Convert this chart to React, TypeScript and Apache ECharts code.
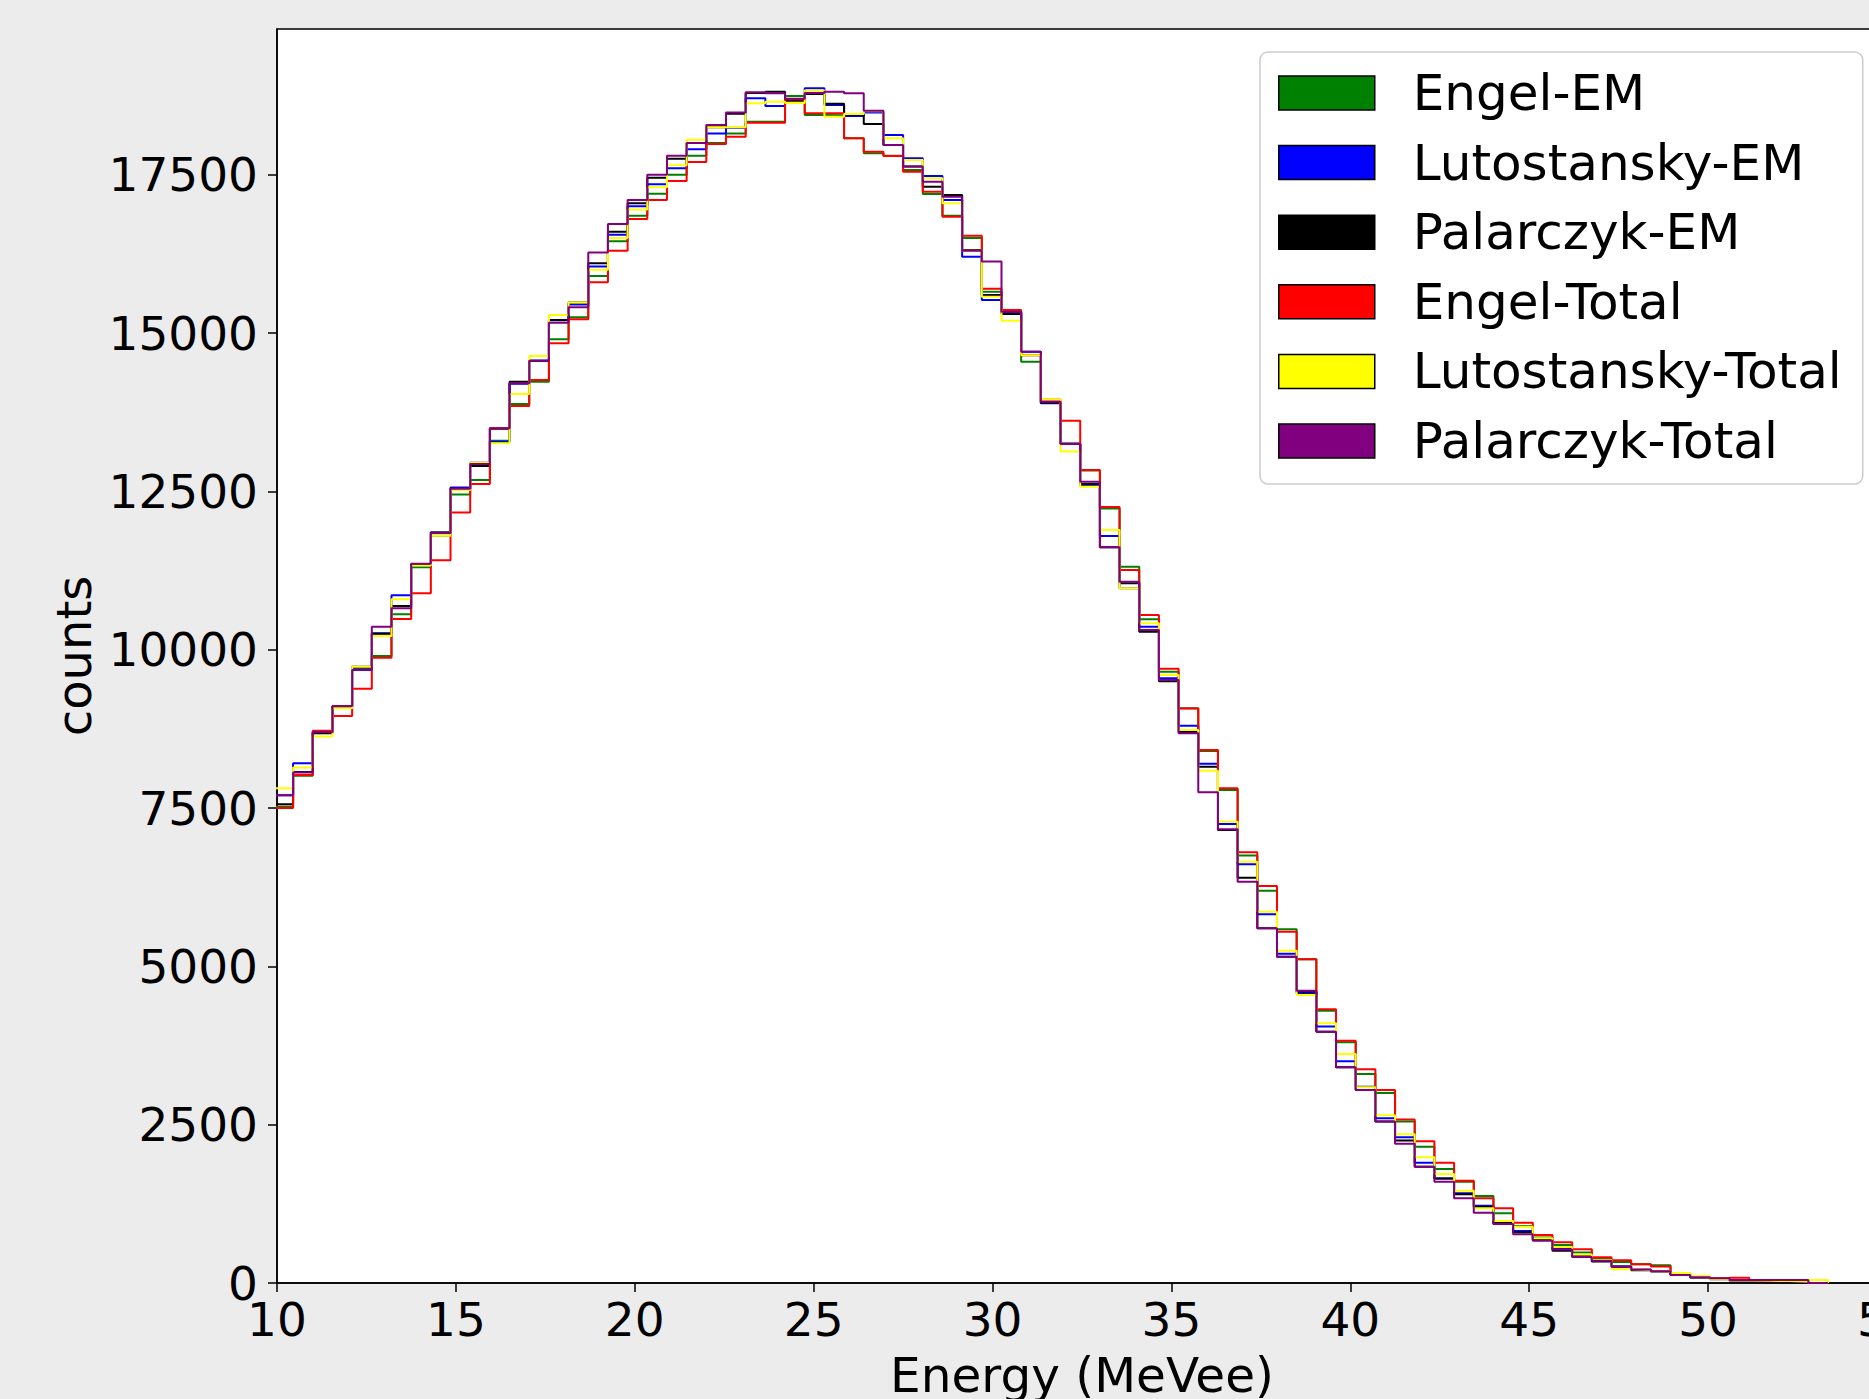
import React, { useEffect, useRef } from "react";
import * as echarts from "echarts";

const SERIES_NAMES = [
  "Engel-EM",
  "Lutostansky-EM",
  "Palarczyk-EM",
  "Engel-Total",
  "Lutostansky-Total",
  "Palarczyk-Total",
];
const SERIES_COLORS = ["#008000", "#0000ff", "#000000", "#ff0000", "#ffff00", "#800080"];

// histogram binning: edges at k * 0.55 MeVee, first visible bin k = 18 (9.9 .. 10.45)
const FIRST_BIN_INDEX = 18;
const BIN_WIDTH = 0.55;

const X_TICKS = [10, 15, 20, 25, 30, 35, 40, 45, 50, 55];
const Y_TICKS = [0, 2500, 5000, 7500, 10000, 12500, 15000, 17500];
const X_MIN = 10;
const X_MAX = 55;
const Y_MAX = 19800;

const engelEM = [
  7520, 8010, 8700, 9100, 9700, 9900, 10559, 11300, 11800, 12450,
  12679, 13300, 13879, 14232, 14901, 15250, 15900, 16450, 16850, 17200,
  17500, 17800, 18000, 18150, 18337, 18337, 18743, 18443, 18440, 18075,
  17838, 17800, 17574, 17195, 16853, 16500, 15650, 15330, 14548, 13900,
  13250, 12830, 12230, 11311, 10480, 9650, 9075, 8400, 7785, 6750,
  6195, 5585, 5111, 4300, 3800, 3300, 3000, 2550, 2150, 1800,
  1600, 1374, 1100, 900, 720, 600, 480, 380, 330, 295,
  279, 150, 100, 70, 45, 40, 30, 25, 0,
];
const lutostanskyEM = [
  7700, 8206, 8700, 9100, 9720, 10258, 10859, 11350, 11850, 12560,
  12950, 13284, 14200, 14560, 15200, 15450, 16050, 16550, 17000, 17350,
  17600, 17900, 18150, 18242, 18707, 18585, 18690, 18864, 18600, 18427,
  18480, 18127, 17759, 17480, 17101, 16205, 15522, 15320, 14705, 13890,
  13250, 12600, 11795, 10969, 10363, 9550, 8800, 8200, 7248, 6611,
  5822, 5200, 4580, 4050, 3500, 3100, 2600, 2300, 1900, 1650,
  1417, 1221, 932, 820, 690, 540, 430, 350, 260, 210,
  190, 130, 90, 60, 40, 35, 30, 25, 0,
];
const palarczykEM = [
  7560, 8070, 8680, 9100, 9732, 10250, 10690, 11340, 11850, 12540,
  12900, 13490, 14232, 14560, 15206, 15482, 16100, 16600, 17050, 17450,
  17750, 18000, 18250, 18460, 18790, 18811, 18668, 18774, 18620, 18450,
  18300, 17969, 17627, 17311, 17180, 16311, 15600, 15301, 14650, 13900,
  13250, 12616, 11617, 11050, 10284, 9500, 8700, 8150, 7153, 6400,
  5601, 5152, 4600, 3968, 3406, 3048, 2550, 2250, 1837, 1650,
  1400, 1200, 950, 800, 680, 510, 420, 340, 260, 200,
  180, 125, 88, 65, 40, 35, 30, 25, 0,
];
const engelTotal = [
  7500, 8020, 8721, 8953, 9384, 9874, 10485, 10891, 11411, 12164,
  12616, 13495, 13848, 14258, 14838, 15217, 15800, 16300, 16800, 17100,
  17400, 17700, 17985, 18100, 18321, 18321, 18690, 18469, 18469, 18075,
  17863, 17795, 17548, 17232, 16837, 16537, 15700, 15364, 14653, 13950,
  13616, 12837, 12251, 11258, 10548, 9700, 9070, 8416, 7811, 6801,
  6269, 5547, 5111, 4322, 3826, 3374, 3048, 2580, 2238, 1900,
  1616, 1338, 1180, 953, 758, 643, 532, 406, 358, 295,
  260, 140, 100, 70, 84, 45, 35, 25, 0,
];
const lutostanskyTotal = [
  7810, 8140, 8627, 9075, 9732, 10216, 10796, 11330, 11800, 12520,
  12953, 13258, 14037, 14637, 15285, 15482, 16000, 16500, 16950, 17300,
  17650, 18050, 18248, 18250, 18628, 18653, 18630, 18827, 18416, 18458,
  18500, 18075, 17732, 17443, 17050, 16300, 15574, 15195, 14650, 13953,
  13127, 12574, 11890, 10969, 10417, 9600, 8732, 8089, 7284, 6653,
  5863, 5247, 4548, 4100, 3616, 3090, 2650, 2350, 1985, 1721,
  1458, 1180, 980, 889, 706, 568, 450, 363, 216, 205,
  185, 158, 111, 60, 40, 35, 30, 25, 47,
];
const palarczykTotal = [
  7700, 8060, 8700, 9111, 9680, 10363, 10653, 11355, 11844, 12541,
  12932, 13495, 14206, 14563, 15163, 15406, 16270, 16720, 17100, 17500,
  17800, 18000, 18285, 18480, 18800, 18785, 18700, 18790, 18811, 18785,
  18511, 17969, 17627, 17390, 17150, 16300, 16127, 15337, 14705, 13916,
  13248, 12653, 11617, 11074, 10310, 9520, 8680, 7748, 7164, 6337,
  5601, 5152, 4615, 3968, 3406, 3048, 2550, 2200, 1837, 1600,
  1338, 1110, 932, 769, 668, 530, 410, 350, 253, 215,
  185, 126, 90, 74, 47, 47, 47, 47, 0,
];

const SERIES_VALUES = [engelEM, lutostanskyEM, palarczykEM, engelTotal, lutostanskyTotal, palarczykTotal];

const FONT = "DejaVu Sans";

function binEdge(i: number): number {
  return Math.round((FIRST_BIN_INDEX + i) * BIN_WIDTH * 1000) / 1000;
}

function stepPoints(values: number[]): number[][] {
  const pts: number[][] = [[binEdge(0), 0]];
  values.forEach((v, i) => pts.push([binEdge(i), v]));
  pts.push([binEdge(values.length), 0]);
  return pts;
}

export default function App() {
  const ref = useRef<HTMLDivElement>(null);

  useEffect(() => {
    document.body.style.margin = "0";
    if (!ref.current) return;
    const chart = echarts.init(ref.current, undefined, { renderer: "svg" });

    const legendSeries = SERIES_NAMES.map((name, i) => ({
      type: "bar",
      name,
      data: [],
      silent: true,
      itemStyle: { color: SERIES_COLORS[i], borderColor: "#000", borderWidth: 1.5 },
    }));

    const lineSeries = SERIES_NAMES.map((name, i) => ({
      type: "line",
      name,
      step: "end",
      symbol: "none",
      silent: true,
      clip: true,
      data: stepPoints(SERIES_VALUES[i]),
      lineStyle: { color: SERIES_COLORS[i], width: 2 },
      itemStyle: { color: SERIES_COLORS[i] },
      z: 3 + i,
    }));

    const plain = (v: number) => String(v);

    chart.setOption({
      animation: false,
      backgroundColor: "#ececec",
      textStyle: { fontFamily: FONT },
      grid: {
        show: true,
        left: 277,
        top: 29,
        width: 1610,
        height: 1254,
        backgroundColor: "#ffffff",
        borderColor: "#000",
        borderWidth: 1.5,
        containLabel: false,
        outerBoundsMode: "none",
      },
      legend: {
        show: true,
        data: SERIES_NAMES,
        orient: "vertical",
        left: 1260,
        top: 52,
        icon: "rect",
        itemWidth: 96,
        itemHeight: 34,
        itemGap: 19.6,
        padding: [16, 21, 18, 18],
        backgroundColor: "rgba(255,255,255,0.8)",
        borderColor: "#cccccc",
        borderWidth: 1.5,
        borderRadius: 8,
        selectedMode: false,
        itemStyle: { borderColor: "#000", borderWidth: 1.5 },
        textStyle: {
          fontFamily: FONT,
          fontSize: 50,
          color: "#000",
          lineHeight: 50,
          padding: [0, 0, 0, 33],
        },
      },
      xAxis: {
        type: "value",
        min: X_MIN,
        max: X_MAX,
        interval: 5,
        name: "Energy (MeVee)",
        nameLocation: "middle",
        nameGap: 67,
        nameTextStyle: { fontFamily: FONT, fontSize: 48.5, color: "#000" },
        axisLine: { show: true, onZero: false, lineStyle: { color: "#000", width: 1.5 } },
        axisTick: { show: true, length: 9, lineStyle: { color: "#000", width: 1.5 }, customValues: X_TICKS },
        axisLabel: {
          fontFamily: FONT,
          fontSize: 47,
          color: "#000",
          margin: 13,
          showMinLabel: true,
          showMaxLabel: true,
          customValues: X_TICKS,
          formatter: plain,
        },
        splitLine: { show: false },
      },
      yAxis: {
        type: "value",
        min: 0,
        max: Y_MAX,
        name: "counts",
        nameLocation: "middle",
        nameRotate: 90,
        nameGap: 179,
        nameTextStyle: { fontFamily: FONT, fontSize: 48, color: "#000" },
        axisLine: { show: true, lineStyle: { color: "#000", width: 1.5 } },
        axisTick: { show: true, length: 9, lineStyle: { color: "#000", width: 1.5 }, customValues: Y_TICKS },
        axisLabel: {
          fontFamily: FONT,
          fontSize: 47,
          color: "#000",
          margin: 19,
          customValues: Y_TICKS,
          formatter: plain,
        },
        splitLine: { show: false },
      },
      series: [...legendSeries, ...lineSeries],
    });

    return () => chart.dispose();
  }, []);

  return <div ref={ref} style={{ width: 1869, height: 1399 }} />;
}
